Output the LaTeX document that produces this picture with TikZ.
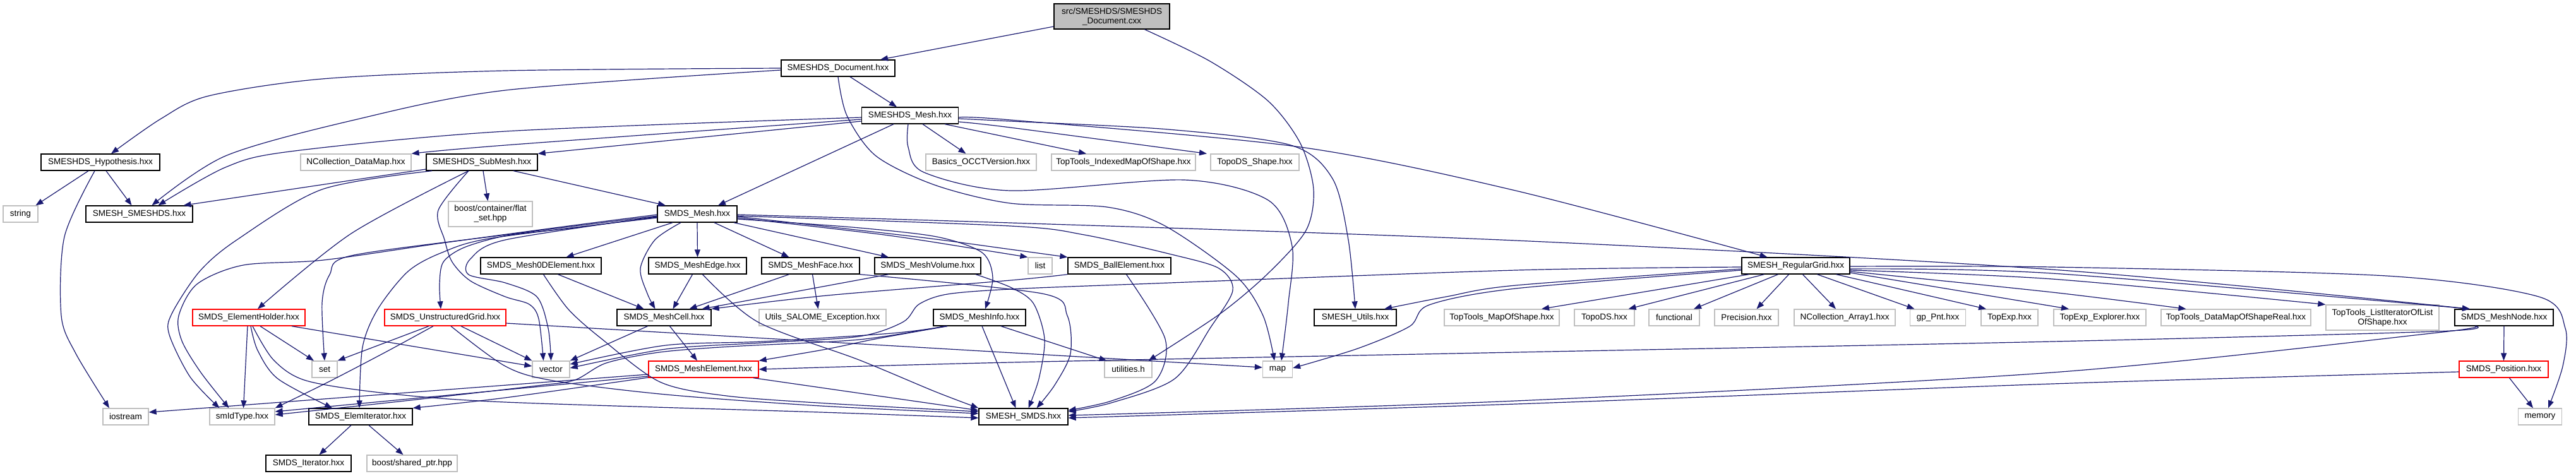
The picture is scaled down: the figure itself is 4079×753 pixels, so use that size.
\documentclass[tikz,border=0pt]{standalone}
\usepackage{fontspec}
\setmainfont{Liberation Sans}
\usetikzlibrary{arrows.meta}
\definecolor{edgec}{HTML}{191970}
\definecolor{greyb}{HTML}{BFBFBF}
\definecolor{redb}{HTML}{FF0000}
\tikzset{
 nb/.style={draw=black, line width=1.3pt, fill=white, minimum height=26pt, inner sep=0pt, font=\fontsize{13.5}{15}\selectfont, align=center, text=black},
 ng/.style={nb, draw=greyb},
 nr/.style={nb, draw=redb},
 conn/.style={draw=edgec, line width=1.2pt, -{Triangle[length=12pt,width=9pt]}},
}
\begin{document}
\begin{tikzpicture}[x=1pt,y=-1pt]
\fill[white] (0,0) rectangle (4079,753);
\useasboundingbox (0,0) rectangle (4079,753);
% nodes
\node[nb, fill=greyb, minimum width=183pt, minimum height=40pt] (src) at (1760.5,26) {src/SMESHDS/SMESHDS\\\_Document.cxx};
\node[nb, minimum width=180pt] (doc) at (1327,108) {SMESHDS\_Document.hxx};
\node[nb, minimum width=153pt] (dsmesh) at (1441,183) {SMESHDS\_Mesh.hxx};
\node[nb, minimum width=188pt] (hyp) at (159,257) {SMESHDS\_Hypothesis.hxx};
\node[ng, minimum width=175pt] (ncdm) at (563.5,257) {NCollection\_DataMap.hxx};
\node[nb, minimum width=176pt] (submesh) at (763,257) {SMESHDS\_SubMesh.hxx};
\node[ng, minimum width=175pt] (basics) at (1553.5,257) {Basics\_OCCTVersion.hxx};
\node[ng, minimum width=228pt] (ttimos) at (1779,257) {TopTools\_IndexedMapOfShape.hxx};
\node[ng, minimum width=140pt] (tdsshape) at (1987,257) {TopoDS\_Shape.hxx};
\node[ng, minimum width=55pt] (string) at (32.5,339) {string};
\node[nb, minimum width=169pt] (smeshds) at (220.5,339) {SMESH\_SMESHDS.hxx};
\node[ng, minimum width=133pt, minimum height=40pt] (flatset) at (776.5,339) {boost/container/flat\\\_set.hpp};
\node[nb, minimum width=126pt] (smdsmesh) at (1104,339) {SMDS\_Mesh.hxx};
\node[nb, minimum width=191pt] (m0d) at (856.5,421) {SMDS\_Mesh0DElement.hxx};
\node[nb, minimum width=155pt] (medge) at (1104.5,421) {SMDS\_MeshEdge.hxx};
\node[nb, minimum width=155pt] (mface) at (1283.5,421) {SMDS\_MeshFace.hxx};
\node[nb, minimum width=168pt] (mvol) at (1469,421) {SMDS\_MeshVolume.hxx};
\node[ng, minimum width=38pt] (list) at (1647,421) {list};
\node[nb, minimum width=163pt] (ball) at (1772.5,421) {SMDS\_BallElement.hxx};
\node[nb, minimum width=171pt] (rgrid) at (2843.5,421) {SMESH\_RegularGrid.hxx};
\node[nr, minimum width=178pt] (eholder) at (394,503) {SMDS\_ElementHolder.hxx};
\node[nr, minimum width=192pt] (ugrid) at (705,503) {SMDS\_UnstructuredGrid.hxx};
\node[nb, minimum width=149pt] (mcell) at (1051.5,503) {SMDS\_MeshCell.hxx};
\node[ng, minimum width=201pt] (utilsexc) at (1302.5,503) {Utils\_SALOME\_Exception.hxx};
\node[nb, minimum width=146pt] (minfo) at (1551,503) {SMDS\_MeshInfo.hxx};
\node[nb, minimum width=130pt] (sutils) at (2146,503) {SMESH\_Utils.hxx};
\node[ng, minimum width=182pt] (ttmos) at (2378,503) {TopTools\_MapOfShape.hxx};
\node[ng, minimum width=95pt] (topods) at (2540.5,503) {TopoDS.hxx};
\node[ng, minimum width=80pt] (functional) at (2651,503) {functional};
\node[ng, minimum width=101pt] (precision) at (2765.5,503) {Precision.hxx};
\node[ng, minimum width=160pt] (ncarr) at (2921,503) {NCollection\_Array1.hxx};
\node[ng, minimum width=88pt] (gppnt) at (3068.5,503) {gp\_Pnt.hxx};
\node[ng, minimum width=90pt] (topexp) at (3182,503) {TopExp.hxx};
\node[ng, minimum width=146pt] (topexpexp) at (3325,503) {TopExp\_Explorer.hxx};
\node[ng, minimum width=237pt] (ttdmsr) at (3540.5,503) {TopTools\_DataMapOfShapeReal.hxx};
\node[ng, minimum width=179pt, minimum height=40pt] (ttliter) at (3772.5,503) {TopTools\_ListIteratorOfList\\OfShape.hxx};
\node[nb, minimum width=156pt] (mnode) at (3965,503) {SMDS\_MeshNode.hxx};
\node[ng, minimum width=40pt] (set) at (514,585) {set};
\node[ng, minimum width=59pt] (vector) at (872.5,585) {vector};
\node[nr, minimum width=174pt] (melem) at (1114,585) {SMDS\_MeshElement.hxx};
\node[ng, minimum width=75pt] (utilities) at (1786.5,585) {utilities.h};
\node[ng, minimum width=47pt] (map) at (2023,585) {map};
\node[nr, minimum width=141pt] (position) at (3964.5,585) {SMDS\_Position.hxx};
\node[ng, minimum width=72pt] (iostream) at (199,660) {iostream};
\node[ng, minimum width=103pt] (smidtype) at (383.5,660) {smIdType.hxx};
\node[nb, minimum width=164pt] (eiter) at (571,660) {SMDS\_ElemIterator.hxx};
\node[nb, minimum width=141pt] (smeshsmds) at (1620.5,660) {SMESH\_SMDS.hxx};
\node[ng, minimum width=69pt] (memory) at (4022,660) {memory};
\node[nb, minimum width=135pt] (iter) at (488.5,734) {SMDS\_Iterator.hxx};
\node[ng, minimum width=143pt] (sharedptr) at (652.5,734) {boost/shared\_ptr.hpp};

% source file
\draw[conn] ([yshift=-16pt]src.west) -- ([xshift=67pt]doc.north);
\draw[conn] plot[smooth] coordinates {([xshift=52pt]src.south) (1916,97) (2008,160) (2059,227) (2080,300) (2068,365) (2008,433) (1932,497) ([xshift=32pt]utilities.north)};

% SMESHDS_Document
\draw[conn] plot[smooth] coordinates {(doc.west) (800,112) (510,125) (330,152) (255,188) ([xshift=17pt]hyp.north)};
\draw[conn] plot[smooth] coordinates {([yshift=-3pt]doc.west) (800,143) (561,190) (357,247) ([xshift=20pt]smeshds.north)};
\draw[conn] ([xshift=19pt]doc.south) -- ([xshift=-21pt]dsmesh.north);
\draw[conn] plot[smooth] coordinates {(doc.south) (1341,183) (1387,247) (1480,293) (1600,322) (1753,328) (1845,358) (1957,437) (2000,500) ([xshift=-5pt]map.north)};

% SMESHDS_Mesh
\draw[conn] ([yshift=-9pt]dsmesh.west) -- (submesh.north east);
\draw[conn] plot[smooth] coordinates {([yshift=-6pt]dsmesh.west) (800,230) (ncdm.north east)};
\draw[conn] plot[smooth] coordinates {([yshift=-3pt]dsmesh.west) (800,208) (459,240) (357,265) ([xshift=30pt]smeshds.north)};
\draw[conn] ([xshift=-26pt]dsmesh.south) -- ([xshift=33pt]smdsmesh.north);
\draw[conn] ([xshift=20pt]dsmesh.south) -- ([xshift=-24pt]basics.north);
\draw[conn] ([xshift=55pt]dsmesh.south) -- ([xshift=-59pt]ttimos.north);
\draw[conn] plot[smooth] coordinates {([yshift=-10pt]dsmesh.east) (1600,202) ([xshift=-76pt]tdsshape.north)};
\draw[conn] plot[smooth] coordinates {([yshift=-5pt]dsmesh.east) (1600,192) (1850,205) (2044,230) (2110,283) (2135,380) (sutils.north)};
\draw[conn] plot[smooth] coordinates {([yshift=-3pt]dsmesh.east) (1600,190) (2059,233) (2400,302) ([xshift=-45pt]rgrid.north)};
\draw[conn] plot[smooth] coordinates {([xshift=-3pt]dsmesh.south) (1438,233) (1463,273) (1600,302) (1875,285) (2008,317) (2046,390) (2040,480) ([xshift=6pt]map.north)};

% SMESHDS_Hypothesis
\draw[conn] ([xshift=-19pt]hyp.south) -- ([xshift=24pt]string.north);
\draw[conn] ([xshift=9pt]hyp.south) -- ([xshift=-12pt]smeshds.north);
\draw[conn] plot[smooth] coordinates {([xshift=-9pt]hyp.south) (102,375) (97,500) (120,560) ([xshift=-26pt]iostream.north)};

% SMESHDS_SubMesh
\draw[conn] ([yshift=-11pt]submesh.west) -- ([xshift=70pt]smeshds.north);
\draw[conn] ([xshift=50pt]submesh.south) -- ([xshift=-50pt]smdsmesh.north);
\draw[conn] ([xshift=2pt]submesh.south) -- ([xshift=-4pt]flatset.north);
\draw[conn] plot[smooth] coordinates {([xshift=-79pt]submesh.south) (510,300) (375,380) (316,430) (272,497) (268,530) (301,597) ([xshift=-36pt]smidtype.north)};
\draw[conn] plot[smooth] coordinates {([xshift=-21pt]submesh.south) (556,370) ([xshift=14pt]eholder.north)};
\draw[conn] plot[smooth] coordinates {([xshift=-21pt]submesh.south) (694,333) (704,380) (716,415) (745,445) (800,470) (838,482) (853,505) ([xshift=-12pt]vector.north)};

% SMDS_Mesh
\draw[conn] ([xshift=-39pt]smdsmesh.south) -- ([xshift=40pt]m0d.north);
\draw[conn] plot[smooth] coordinates {([xshift=-26pt]smdsmesh.south) (1037,380) (1014,425) (1025,465) ([xshift=-14pt]mcell.north)};
\draw[conn] (smdsmesh.south) -- (medge.north);
\draw[conn] ([xshift=27pt]smdsmesh.south) -- ([xshift=-34pt]mface.north);
\draw[conn] ([xshift=58pt]smdsmesh.south) -- ([xshift=-62pt]mvol.north);
\draw[conn] plot[smooth] coordinates {([yshift=-6pt]smdsmesh.east) (1400,372) (1550,395) (list.north west)};
\draw[conn] plot[smooth] coordinates {([yshift=-4pt]smdsmesh.east) (1450,375) (1600,395) (ball.north west)};
\draw[conn] plot[smooth] coordinates {([yshift=-8pt]smdsmesh.east) (1350,360) (1483,375) (1555,400) (1572,440) ([xshift=9pt]minfo.north)};
\draw[conn] plot[smooth] coordinates {([yshift=-1pt]smdsmesh.west) (900,358) (700,385) (512,412) (385,420) (312,450) (283,500) (288,540) (318,590) ([xshift=-21pt]smidtype.north)};
\draw[conn] plot[smooth] coordinates {([yshift=-3pt]smdsmesh.west) (800,372) (556,405) (522,435) (510,480) (set.north)};
\draw[conn] plot[smooth] coordinates {([yshift=-5pt]smdsmesh.west) (900,362) (803,373) (735,392) (702,415) (696,450) ([xshift=-7pt]ugrid.north)};
\draw[conn] plot[smooth] coordinates {([yshift=-6pt]smdsmesh.west) (780,377) (700,400) (646,430) (598,490) (574,550) ([xshift=-2pt]eiter.north)};
\draw[conn] plot[smooth] coordinates {([yshift=-4pt]smdsmesh.west) (800,380) (745,410) (742,435) (800,448) (850,470) (868,520) (vector.north)};
\draw[conn] plot[smooth] coordinates {([yshift=-3pt]smdsmesh.east) (1600,358) (1717,372) (1855,403) (1930,425) (1952,460) (1916,520) (1860,600) (1760,638) ([yshift=8pt]smeshsmds.east)};
\draw[conn] plot[smooth] coordinates {([yshift=-1pt]smdsmesh.east) (1600,353) (2400,381) (3250,427) ([xshift=-54pt]mnode.north)};

% cells
\draw[conn] ([xshift=27pt]m0d.south) -- ([xshift=-32pt]mcell.north);
\draw[conn] ([xshift=-8pt]medge.south) -- ([xshift=14pt]mcell.north);
\draw[conn] ([xshift=-34pt]mface.south) -- ([xshift=40pt]mcell.north);
\draw[conn] ([xshift=-62pt]mvol.south) -- ([xshift=60pt]mcell.north);
\draw[conn] plot[smooth] coordinates {(ball.south west) (1600,444) (1310,468) (mcell.north east)};
\draw[conn] ([xshift=3pt]mface.south) -- ([xshift=-7pt]utilsexc.north);
\draw[conn] ([xshift=-26pt]mcell.south) -- (vector.north east);
\draw[conn] ([xshift=9pt]mcell.south) -- ([xshift=-10pt]melem.north);
\draw[conn] plot[smooth] coordinates {([xshift=4pt]m0d.south) (900,490) (953,537) (1045,605) (1150,627) (1310,639) ([yshift=8pt]smeshsmds.west)};
\draw[conn] plot[smooth] coordinates {([xshift=8pt]medge.south) (1200,510) (1360,570) (1480,620) (smeshsmds.north west)};
\draw[conn] plot[smooth] coordinates {(mface.south east) (1650,465) (1690,500) (1695,560) (1670,610) ([xshift=21pt]smeshsmds.north)};
\draw[conn] plot[smooth] coordinates {([xshift=76pt]mvol.south) (1600,455) (1636,480) (1654,537) (1645,600) ([xshift=8pt]smeshsmds.north)};
\draw[conn] plot[smooth] coordinates {([xshift=11pt]ball.south) (1845,537) (1830,603) (1760,635) ([yshift=10pt]smeshsmds.east)};

% SMDS_MeshInfo
\draw[conn] plot[smooth] coordinates {([xshift=-51pt]minfo.south) (1411,528) (1207,541) (1054,547) ([yshift=8pt]vector.east)};
\draw[conn] plot[smooth] coordinates {([xshift=-51pt]minfo.south) (1386,537) (1309,553) (melem.north east)};
\draw[conn] ([xshift=34pt]minfo.south) -- ([xshift=-34pt]utilities.north);
\draw[conn] ([xshift=4pt]minfo.south) -- ([xshift=-12pt]smeshsmds.north);
\draw[conn] plot[smooth] coordinates {([xshift=-55pt]minfo.south) (1360,538) (1156,549) (1044,558) (960,575) (910,602) (850,611) (650,634) ([yshift=3pt]smidtype.east)};

% SMDS_MeshElement
\draw[conn] ([yshift=-8pt]melem.west) -- ([yshift=7pt]iostream.east);
\draw[conn] ([yshift=-11pt]melem.west) -- ([yshift=8pt]smidtype.east);
\draw[conn] plot[smooth] coordinates {([yshift=-13pt]melem.west) (800,630) (eiter.north east)};
\draw[conn] ([xshift=79pt]melem.south) -- ([yshift=10pt]smeshsmds.west);

% SMDS_ElementHolder
\draw[conn] ([xshift=18pt]eholder.south) -- ([xshift=-17pt]set.north);
\draw[conn] ([xshift=-2pt]eholder.south) -- ([xshift=2pt]smidtype.north);
\draw[conn] plot[smooth] coordinates {([xshift=3pt]eholder.south) (408,555) (440,600) ([xshift=-45pt]eiter.north)};
\draw[conn] plot[smooth] coordinates {([xshift=6pt]eholder.south) (433,570) (485,603) (612,623) (800,637) (1300,653) ([yshift=-2pt]smeshsmds.west)};
\draw[conn] ([xshift=68pt]eholder.south) -- ([yshift=5pt]vector.west);

% SMDS_UnstructuredGrid
\draw[conn] ([xshift=-26pt]ugrid.south) -- (set.north east);
\draw[conn] plot[smooth] coordinates {([xshift=-19pt]ugrid.south) (612,557) (520,605) (smidtype.north east)};
\draw[conn] plot[smooth] coordinates {([xshift=9pt]ugrid.south) (800,580) (876,603) (1055,625) (1300,643) ([yshift=5pt]smeshsmds.west)};
\draw[conn] ([xshift=25pt]ugrid.south) -- (vector.north west);
\draw[conn] ([yshift=-9pt]ugrid.east) -- ([yshift=3pt]map.west);

% SMDS_ElemIterator
\draw[conn] ([xshift=-15pt]eiter.south) -- ([xshift=17pt]iter.north);
\draw[conn] ([xshift=13pt]eiter.south) -- ([xshift=-14pt]sharedptr.north);

% SMDS_MeshNode / Position
\draw[conn] (mnode.south) -- (position.north);
\draw[conn] ([xshift=9pt]position.south) -- ([xshift=-11pt]memory.north);
\draw[conn] plot[smooth] coordinates {([xshift=-46pt]mnode.south) (3858,525) (3250,541) (2400,558) (1600,574) (melem.east)};
\draw[conn] plot[smooth] coordinates {([xshift=-46pt]mnode.south) (3850,528) (3250,590) (2400,635) ([yshift=2pt]smeshsmds.east)};
\draw[conn] plot[smooth] coordinates {([yshift=-4pt]position.west) (3250,608) (2400,640) ([yshift=-2pt]smeshsmds.east)};

% SMESH_RegularGrid
\draw[conn] ([xshift=-74pt]rgrid.south) -- ([xshift=63pt]ttmos.north);
\draw[conn] ([xshift=-50pt]rgrid.south) -- ([xshift=38pt]topods.north);
\draw[conn] ([xshift=-28pt]rgrid.south) -- ([xshift=31pt]functional.north);
\draw[conn] ([xshift=-11pt]rgrid.south) -- ([xshift=16pt]precision.north);
\draw[conn] ([xshift=11pt]rgrid.south) -- ([xshift=-14pt]ncarr.north);
\draw[conn] ([xshift=34pt]rgrid.south) -- ([xshift=-37pt]gppnt.north);
\draw[conn] ([xshift=64pt]rgrid.south) -- ([xshift=-37pt]topexp.north);
\draw[conn] ([yshift=-11pt]rgrid.east) -- ([xshift=-49pt]topexpexp.north);
\draw[conn] plot[smooth] coordinates {([yshift=-9pt]rgrid.east) (3250,463) ([xshift=-79pt]ttdmsr.north)};
\draw[conn] plot[smooth] coordinates {([yshift=-7pt]rgrid.east) (3250,442) (ttliter.north west)};
\draw[conn] plot[smooth] coordinates {([yshift=-5pt]rgrid.east) (3250,433) ([xshift=-54pt]mnode.north)};
\draw[conn] plot[smooth] coordinates {([yshift=-1pt]rgrid.east) (3250,423) (3779,437) (4020,470) (4062,520) (4058,580) ([xshift=13pt]memory.north)};
\draw[conn] plot[smooth] coordinates {([yshift=-2pt]rgrid.west) (2400,428) (1800,450) (1600,458) (1500,466) (1455,482) (1430,510) (1360,533) (1207,543) (1054,553) ([yshift=2pt]vector.east)};
\draw[conn] plot[smooth] coordinates {([yshift=-5pt]rgrid.west) (2400,452) (2290,470) ([xshift=46pt]sutils.north)};
\draw[conn] plot[smooth] coordinates {([yshift=-7pt]rgrid.west) (2400,457) (2263,483) (2232,517) (2150,552) ([yshift=2pt]map.east)};
\end{tikzpicture}
\end{document}
